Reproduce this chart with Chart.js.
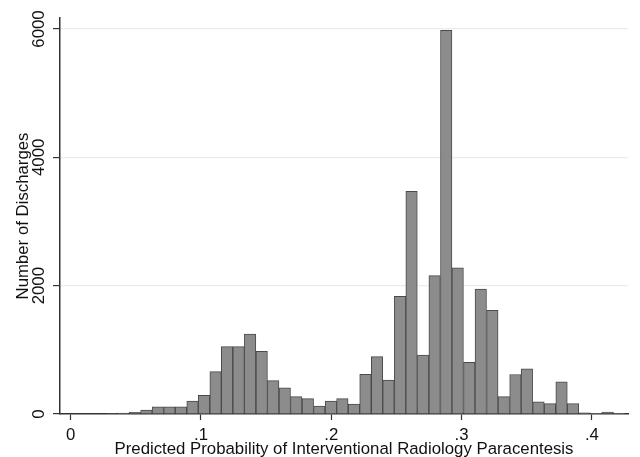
<!DOCTYPE html>
<html>
<head>
<meta charset="utf-8">
<title>Predicted Probability of Interventional Radiology Paracentesis</title>
<script src="https://cdn.jsdelivr.net/npm/chart.js@4.4.1/dist/chart.umd.min.js"></script>
<style>
  html, body { margin: 0; padding: 0; background: #fff; }
  #wrap { width: 640px; height: 457px; }
</style>
</head>
<body>
<div id="wrap"><canvas id="histChart"></canvas></div>
<script>
// bin centres (predicted probability) and counts
const binCenters = [
  0.0315, 0.0404, 0.0492, 0.0581, 0.0669, 0.0758, 0.0846, 0.0935, 0.1023,
  0.1112, 0.1200, 0.1289, 0.1377, 0.1466, 0.1554, 0.1643, 0.1731, 0.1820,
  0.1908, 0.1997, 0.2085, 0.2174, 0.2262, 0.2351, 0.2439, 0.2528, 0.2616,
  0.2705, 0.2793, 0.2882, 0.2970, 0.3059, 0.3147, 0.3236, 0.3324, 0.3413,
  0.3501, 0.3590, 0.3678, 0.3767, 0.3855, 0.3944, 0.4032, 0.4121, 0.4209,
];
const discharges = [
  8, 15, 25, 60, 110, 110, 110, 200, 290,
  660, 1050, 1050, 1245, 975, 520, 406, 270, 240,
  125, 203, 240, 156, 620, 895, 530, 1833, 3469,
  917, 2156, 5980, 2276, 807, 1948, 1615, 270, 615,
  703, 188, 161, 500, 161, 20, 10, 31, 5,
];
const xTicks = [0, 0.1, 0.2, 0.3, 0.4];
const xTickLabels = ["0", ".1", ".2", ".3", ".4"];
const yTicks = [0, 2000, 4000, 6000];
const yTickLabels = ["0", "2000", "4000", "6000"];

const textColor = "#111";
const axisColor = "#333";
const gridColor = "#ececec";
const fontFamily = "'Liberation Sans', Arial, Helvetica, sans-serif";

// y tick labels are written sideways, like in the original
const yTickLabelPlugin = {
  id: "yTickLabels",
  afterDraw: function (chart) {
    const ctx = chart.ctx;
    const yScale = chart.scales.y;
    ctx.save();
    ctx.font = "16.8px " + fontFamily;
    ctx.fillStyle = textColor;
    ctx.textAlign = "center";
    ctx.textBaseline = "middle";
    yTicks.forEach(function (v, i) {
      ctx.save();
      ctx.translate(yScale.left + 39, yScale.getPixelForValue(v));
      ctx.rotate(-Math.PI / 2);
      ctx.fillText(yTickLabels[i], 0, 0);
      ctx.restore();
    });
    ctx.restore();
  },
};

document.addEventListener("DOMContentLoaded", function () {
  Chart.defaults.font.family = fontFamily;

  const ctx = document.getElementById("histChart").getContext("2d");
  new Chart(ctx, {
    type: "bar",
    data: {
      datasets: [
        {
          label: "Number of Discharges",
          data: binCenters.map(function (c, i) {
            return { x: c, y: discharges[i] };
          }),
          backgroundColor: "#8c8c8c",
          borderColor: "#4a4a4a",
          borderWidth: 1,
          barPercentage: 1,
          categoryPercentage: 1,
        },
      ],
    },
    options: {
      responsive: true,
      maintainAspectRatio: false,
      animation: false,
      layout: { padding: { top: 18, right: 12, left: 0, bottom: 0 } },
      plugins: {
        legend: { display: false },
        tooltip: { enabled: false },
      },
      scales: {
        x: {
          type: "linear",
          min: -0.0082,
          max: 0.4277,
          offset: false,
          afterBuildTicks: function (s) {
            s.ticks = xTicks.map(function (v) { return { value: v }; });
          },
          afterFit: function (s) {
            s.height = 43;
          },
          grid: {
            offset: false,
            drawOnChartArea: false,
            drawTicks: true,
            tickLength: 6,
            tickColor: axisColor,
            tickWidth: 1.2,
          },
          border: { color: axisColor, width: 1.5 },
          ticks: {
            padding: 5,
            color: textColor,
            font: { size: 16.8 },
            maxRotation: 0,
            autoSkip: false,
            callback: function (v, i) {
              return xTickLabels[i];
            },
          },
          title: {
            display: true,
            text: "Predicted Probability of Interventional Radiology Paracentesis",
            color: textColor,
            font: { size: 16.8 },
            padding: { top: 0, bottom: -2 },
          },
        },
        y: {
          min: 0,
          max: 6171,
          afterBuildTicks: function (s) {
            s.ticks = yTicks.map(function (v) { return { value: v }; });
          },
          afterFit: function (s) {
            s.width = 60;
          },
          grid: {
            color: function (c) {
              return c.tick && c.tick.value === 0 ? "rgba(0,0,0,0)" : gridColor;
            },
            lineWidth: 1.2,
            tickColor: axisColor,
            tickLength: 7,
          },
          border: { color: axisColor, width: 1.5 },
          ticks: { display: false },
          title: {
            display: true,
            text: "Number of Discharges",
            color: textColor,
            font: { size: 16.8 },
            padding: { top: 13, bottom: 0 },
          },
        },
      },
    },
    plugins: [yTickLabelPlugin],
  });
});
</script>
</body>
</html>
